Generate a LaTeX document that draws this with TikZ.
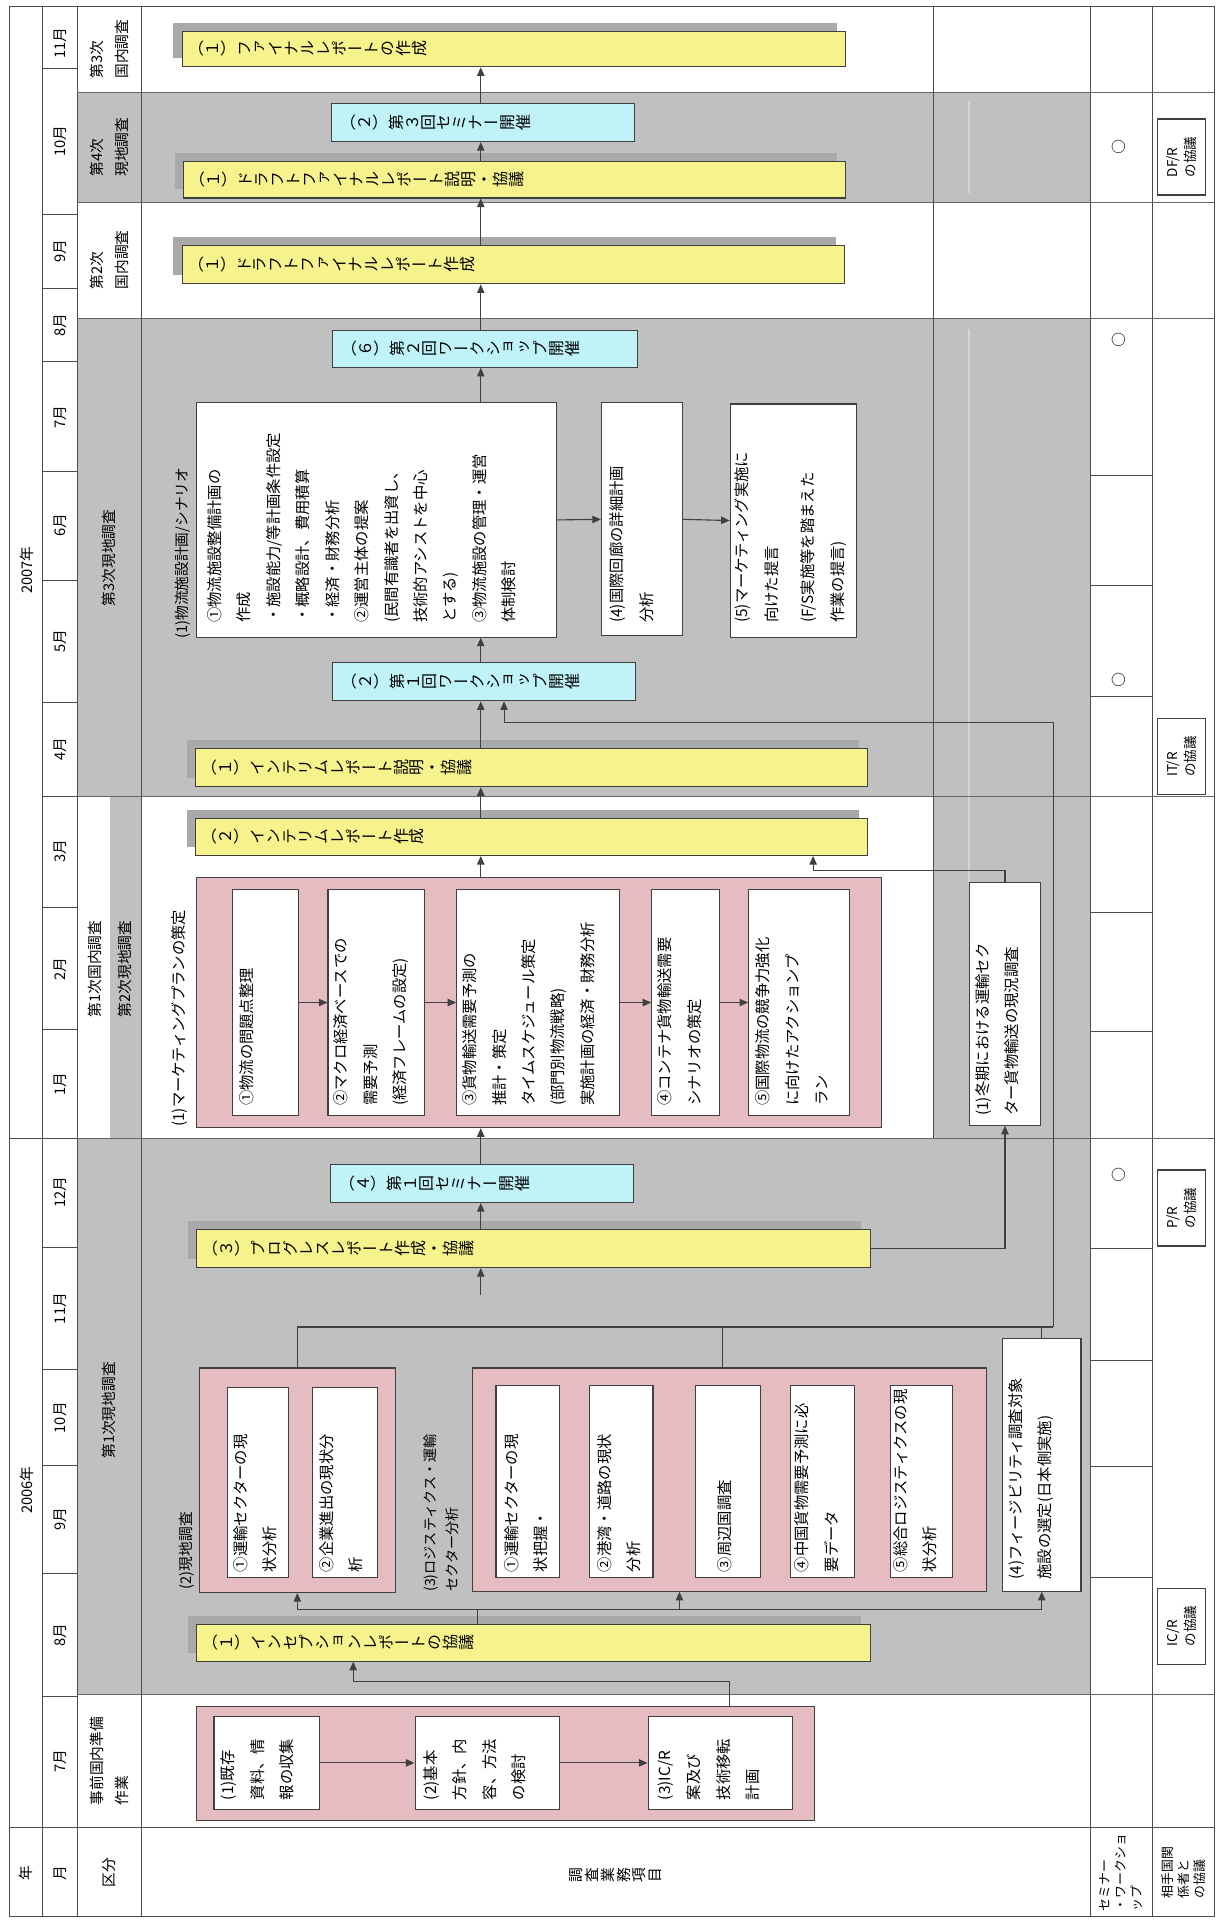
\documentclass[tikz,border=0pt]{standalone}
\usepackage{fontspec}
\usepackage{graphicx}
\setmainfont{Noto Sans CJK JP}
\newfontfamily\vjp[Vertical=RotatedGlyphs]{Noto Sans CJK JP}
\usetikzlibrary{arrows.meta,shadows}
\definecolor{gbg}{HTML}{C0C0C0}
\definecolor{yel}{HTML}{F6F28C}
\definecolor{cya}{HTML}{BFF3F8}
\definecolor{pnk}{HTML}{E4BCC2}
\definecolor{shd}{HTML}{A9A9A9}
\definecolor{bc}{HTML}{404040}
\definecolor{fnt}{HTML}{D6D6D6}
\newcommand\mkbox[6]{\node[#2,anchor=north west,minimum width={#5pt-#3pt},minimum height={#6pt-#4pt}] (#1) at (#3,#4) {};}
% tategaki text laid sideways: each glyph turned a quarter turn anticlockwise
\newcommand\vtch[1]{\rotatebox[origin=c]{90}{\makebox[1em][c]{\rule[-.12em]{0pt}{1em}#1}}}
\def\vtend{\vtend}
\def\vt#1{\vtloop#1\vtend}
\def\vtloop#1{\ifx\vtend#1\else\vtch{#1}\expandafter\vtloop\fi}
\begin{document}
\begin{tikzpicture}[x=1pt,y=-1pt,
  ln/.style={line width=0.9pt,draw=bc},
  arr/.style={ln,-{Triangle[length=7pt,width=6pt]}},
  grid/.style={line width=0.7pt,draw=black!70},
  pline/.style={line width=0.7pt,draw=black!60},
  ybox/.style={draw=bc,line width=0.9pt,fill=yel,align=left,inner xsep=5pt,inner ysep=0pt,anchor=north west,
    font=\vjp\fontsize{13}{15}\selectfont,general shadow={fill=shd,shadow xshift=-7pt,shadow yshift=7pt}},
  cbox/.style={draw=bc,line width=0.9pt,fill=cya,align=left,inner xsep=7pt,inner ysep=0pt,anchor=north west,
    font=\vjp\fontsize{13}{15}\selectfont},
  pbox/.style={draw=bc,line width=0.9pt,fill=pnk,inner sep=0pt},
  wbox/.style={draw=bc,line width=0.9pt,fill=white,inner sep=0pt},
  rtxt/.style={rotate=90,inner sep=0pt,align=left,anchor=north west,font=\fontsize{12.5}{24}\selectfont},
  lbl/.style={rotate=90,inner sep=0pt,align=left,font=\fontsize{12}{20}\selectfont},
  mbox/.style={rotate=90,draw=bc,line width=0.9pt,fill=white,minimum width=62pt,minimum height=39pt,
    inner sep=0pt,align=left,font=\fontsize{11}{14}\selectfont},
]
\useasboundingbox (0,0) rectangle (992,1568);
\fill[white] (0,0) rectangle (992,1568);
% phase bands
\fill[gbg] (63,75) rectangle (889,165);
\fill[gbg] (63,260) rectangle (889,649);
\fill[gbg] (90,649) rectangle (115,928);
\fill[gbg] (761,649) rectangle (889,928);
\fill[gbg] (63,928) rectangle (889,1382);
\draw[fnt,line width=1.3pt] (790,82) -- (790,157);
\draw[fnt,line width=1.3pt] (790,268) -- (790,719);
% grid
\draw[grid] (8,5) rectangle (990,1563);
\foreach \x in {35,63,115,889,940} \draw[grid] (\x,5) -- (\x,1563);
\draw[grid] (8,1490) -- (990,1490);
\draw[grid] (8,928) -- (63,928);
\foreach \y in {56,175,235,295,384,473,573,649,740,839,1017,1117,1195,1283,1383} \draw[grid] (35,\y) -- (63,\y);
\foreach \y in {75,165,260,649,928,1382} \draw[pline] (63,\y) -- (990,\y);
\foreach \y in {388,477,568,744,841,1018,1109,1196,1286} \draw[grid] (889,\y) -- (940,\y);
\draw[grid] (761,5) -- (761,928);

% year / month labels
\node[lbl] (yr07) at (22,465) {2007年};
\node[lbl] (yr06) at (22,1215) {2006年};
\node[lbl] (m1) at (49,35) {11月};
\node[lbl] (m2) at (49,115) {10月};
\node[lbl] (m3) at (49,205) {9月};
\node[lbl] (m4) at (49,265) {8月};
\node[lbl] (m5) at (49,340) {7月};
\node[lbl] (m6) at (49,428) {6月};
\node[lbl] (m7) at (49,523) {5月};
\node[lbl] (m8) at (49,611) {4月};
\node[lbl] (m9) at (49,694) {3月};
\node[lbl] (m10) at (49,790) {2月};
\node[lbl] (m11) at (49,884) {1月};
\node[lbl] (m12) at (49,972) {12月};
\node[lbl] (m13) at (49,1067) {11月};
\node[lbl] (m14) at (49,1156) {10月};
\node[lbl] (m15) at (49,1239) {9月};
\node[lbl] (m16) at (49,1333) {8月};
\node[lbl] (m17) at (49,1436) {7月};

% phase labels
\node[lbl] (ph1) at (89,40) {第3次\\国内調査};
\node[lbl] (ph2) at (89,120) {第4次\\現地調査};
\node[lbl] (ph3) at (89,212) {第2次\\国内調査};
\node[lbl] (ph4) at (89,455) {第3次現地調査};
\node[lbl] (ph5) at (77,790) {第1次国内調査};
\node[lbl] (ph6) at (102,790) {第2次現地調査};
\node[lbl] (ph7) at (89,1150) {第1次現地調査};
\node[lbl] (ph8) at (89,1436) {事前国内準備\\作業};

% header row
\node[lbl] (h1) at (21,1527) {年};
\node[lbl] (h2) at (49,1527) {月};
\node[lbl] (h3) at (89,1527) {区分};
\node[rotate=90,inner sep=0pt,align=center,font=\fontsize{12}{13}\selectfont] (h4) at (502,1529) {調\\査\\業\\務\\項\\目};
\node[lbl,font=\fontsize{10.5}{13}\selectfont] (h5) at (914,1527) {セミナー\\・ワークショ\\ップ};
\node[lbl,font=\fontsize{10.5}{13}\selectfont] (h6) at (965,1527) {相手国関\\係者と\\の協議};

% seminar marks and meeting boxes
\node[font=\fontsize{12}{12}\selectfont] (o1) at (912,120) {○};
\node[font=\fontsize{12}{12}\selectfont] (o2) at (912,277) {○};
\node[font=\fontsize{12}{12}\selectfont] (o3) at (912,554) {○};
\node[font=\fontsize{12}{12}\selectfont] (o4) at (912,958) {○};
\node[mbox] (mDF) at (963.5,128) {DF/R\\の協議};
\node[mbox] (mIT) at (963.5,617) {IT/R\\の協議};
\node[mbox] (mPR) at (963.5,985) {P/R\\の協議};
\node[mbox] (mIC) at (963.5,1326) {IC/R\\の協議};

% main column boxes
\node[ybox,text width=531pt,minimum height=29pt] (Y1) at (148,25) {\vt{（１）ファイナルレポートの作成}};
\node[cbox,text width=233pt,minimum height=31pt] (C1) at (270,84) {\vt{（２）第３回セミナー開催}};
\node[ybox,text width=530pt,minimum height=30pt] (Y2) at (149,131) {\vt{（１）ドラフトファイナルレポート説明・協議}};
\node[ybox,text width=530pt,minimum height=31pt] (Y3) at (148,200) {\vt{（１）ドラフトファイナルレポート作成}};
\node[cbox,text width=234pt,minimum height=30pt] (C2) at (271,269) {\vt{（６）第２回ワークショップ開催}};
\mkbox{W1}{wbox}{160}{328}{453}{519}
\mkbox{W2}{wbox}{490}{328}{556}{518}
\mkbox{W3}{wbox}{595}{329}{698}{519}
\node[cbox,text width=233pt,minimum height=31pt] (C3) at (271,540) {\vt{（２）第１回ワークショップ開催}};
\node[ybox,text width=538pt,minimum height=31pt] (Y4) at (159,610) {\vt{（１）インテリムレポート説明・協議}};
\node[ybox,text width=538pt,minimum height=30pt] (Y5) at (159,667) {\vt{（２）インテリムレポート作成}};
\mkbox{P1}{pbox}{160}{715}{718}{919}
\mkbox{P1a}{wbox}{189}{725}{243}{909}
\mkbox{P1b}{wbox}{267}{725}{346}{909}
\mkbox{P1c}{wbox}{372}{725}{505}{909}
\mkbox{P1d}{wbox}{531}{725}{586}{909}
\mkbox{P1e}{wbox}{610}{725}{692}{909}
\mkbox{R1}{wbox}{790}{719}{848}{917}
\node[cbox,text width=233pt,minimum height=31pt] (C4) at (269,949) {\vt{（４）第１回セミナー開催}};
\node[ybox,text width=539pt,minimum height=31pt] (Y6) at (160,1002) {\vt{（３）プログレスレポート作成・協議}};
\mkbox{P2}{pbox}{162}{1115}{322}{1298}
\mkbox{P2a}{wbox}{185}{1131}{235}{1286}
\mkbox{P2b}{wbox}{254}{1131}{307}{1286}
\mkbox{P3}{pbox}{385}{1115}{804}{1297}
\mkbox{P3a}{wbox}{404}{1129}{456}{1286}
\mkbox{P3b}{wbox}{480}{1129}{532}{1286}
\mkbox{P3c}{wbox}{567}{1129}{620}{1286}
\mkbox{P3d}{wbox}{644}{1129}{696}{1286}
\mkbox{P3e}{wbox}{726}{1129}{776}{1286}
\mkbox{R2}{wbox}{817}{1091}{881}{1297}
\node[ybox,text width=539pt,minimum height=30pt] (Y7) at (160,1324) {\vt{（１）インセプションレポートの協議}};
\mkbox{P4}{pbox}{160}{1391}{664}{1484}
\mkbox{P4a}{wbox}{174}{1399}{260}{1475}
\mkbox{P4b}{wbox}{338}{1399}{456}{1475}
\mkbox{P4c}{wbox}{528}{1399}{646}{1475}

% texts inside boxes (rotated)
\node[rtxt] (tW1) at (169,508) {①物流施設整備計画の\\作成\\・施設能力/等計画条件設定\\・概略設計、費用積算\\・経済・財務分析\\②運営主体の提案\\(民間有識者を出資し、\\技術的アシストを中心\\とする)\\③物流施設の管理・運営\\体制検討};
\node[rtxt] (tW2) at (497,508) {(4)国際回廊の詳細計画\\分析};
\node[rtxt] (tW3) at (599,508) {(5)マーケティング実施に\\向けた提言\\[6pt](F/S実施等を踏まえた\\作業の提言)};
\node[lbl,anchor=west] (lW1) at (149,521) {(1)物流施設計画/シナリオ};
\node[lbl,anchor=west,font=\fontsize{12.5}{20}\selectfont] (lP1) at (146,919) {(1)マーケティングプランの策定};
\node[rtxt] (tP1a) at (195,902) {①物流の問題点整理};
\node[rtxt] (tP1b) at (272,902) {②マクロ経済ベースでの\\需要予測\\(経済フレームの設定)};
\node[rtxt] (tP1c) at (377,902) {③貨物輸送需要予測の\\推計・策定\\タイムスケジュール策定\\(部門別物流戦略)\\実施計画の経済・財務分析};
\node[rtxt] (tP1d) at (536,902) {④コンテナ貨物輸送需要\\シナリオの策定};
\node[rtxt] (tP1e) at (616,902) {⑤国際物流の競争力強化\\に向けたアクションプ\\ラン};
\node[rtxt] (tR1) at (795,910) {(1)冬期における運輸セク\\ター貨物輸送の現況調査};
\node[lbl,anchor=west] (lP2) at (152,1296) {(2)現地調査};
\node[rtxt,font=\fontsize{11.5}{18}\selectfont] (lP3) at (345,1298) {(3)ロジスティクス・運輸\\セクター分析};
\node[rtxt] (tP2a) at (190,1282) {①運輸セクターの現\\状分析};
\node[rtxt] (tP2b) at (260,1282) {②企業進出の現状分\\析};
\node[rtxt] (tP3a) at (411,1282) {①運輸セクターの現\\状把握・};
\node[rtxt] (tP3b) at (487,1282) {②港湾・道路の現状\\分析};
\node[rtxt] (tP3c) at (585,1282) {③周辺国調査};
\node[rtxt] (tP3d) at (648,1282) {④中国貨物需要予測に必\\要データ};
\node[rtxt] (tP3e) at (728,1282) {⑤総合ロジスティクスの現\\状分析};
\node[rtxt] (tR2) at (822,1288) {(4)フィージビリティ調査対象\\施設の選定(日本側実施)};
\node[rtxt] (tP4a) at (180,1468) {(1)既存\\資料、情\\報の収集};
\node[rtxt] (tP4b) at (345,1468) {(2)基本\\方針、内\\容、方法\\の検討};
\node[rtxt] (tP4c) at (536,1468) {(3)IC/R\\案及び\\技術移転\\計画};

% connectors
\coordinate (ax) at (392,0);
\draw[arr] (C1.north -| ax) -- (Y1.south -| ax);
\draw[arr] (Y2.north -| ax) -- (C1.south -| ax);
\draw[arr] (Y3.north -| ax) -- (Y2.south -| ax);
\draw[arr] (C2.north -| ax) -- (Y3.south -| ax);
\draw[arr] (W1.north -| ax) -- (C2.south -| ax);
\draw[arr] (C3.north -| ax) -- (W1.south -| ax);
\draw[arr] (Y4.north -| ax) -- (C3.south -| ax);
\draw[arr] (Y5.north -| ax) -- (Y4.south -| ax);
\draw[arr] (P1.north -| ax) -- (Y5.south -| ax);
\draw[arr] (C4.north -| ax) -- (P1.south -| ax);
\draw[arr] (Y6.north -| ax) -- (C4.south -| ax);
\coordinate (s6) at (392,1056);
\draw[arr] (s6) -- (Y6.south -| ax);
\draw[arr] (W1.east) -- (W2.west);
\draw[arr] (W2.east) -- (W3.west);
\draw[arr] (P1a.east) -- (P1b.west);
\draw[arr] (P1b.east) -- (P1c.west);
\draw[arr] (P1c.east) -- (P1d.west);
\draw[arr] (P1d.east) -- (P1e.west);
\draw[arr] (Y6.east) -| (R1.south);
\coordinate (j1) at (663,710);
\draw[arr] (R1.north) |- (j1) -- (j1 |- Y5.south);
\coordinate (t2) at (859,1082);
\coordinate (q589) at (589,0);
\draw[ln] (P2.north) |- (t2);
\draw[ln] (P3.north -| q589) -- (q589 |- t2);
\draw[ln] (R2.north) -- (R2.north |- t2);
\coordinate (t3) at (859,589);
\coordinate (t4) at (411,589);
\draw[arr] (t2) -- (t3) -- (t4) -- (t4 |- C3.south);
\coordinate (b0) at (389,1312);
\coordinate (q554) at (554,0);
\draw[ln] (Y7.north -| b0) -- (b0);
\draw[arr] (b0) -| (P2.south);
\draw[arr] (b0) -| (P3.south -| q554);
\draw[arr] (b0) -| (R2.south);
\coordinate (k1) at (595,1371);
\coordinate (k2) at (288,1371);
\draw[arr] (P4.north -| k1) -- (k1) -- (k2) -- (k2 |- Y7.south);
\draw[arr] (P4a.east) -- (P4b.west);
\draw[arr] (P4b.east) -- (P4c.west);
\end{tikzpicture}
\end{document}
